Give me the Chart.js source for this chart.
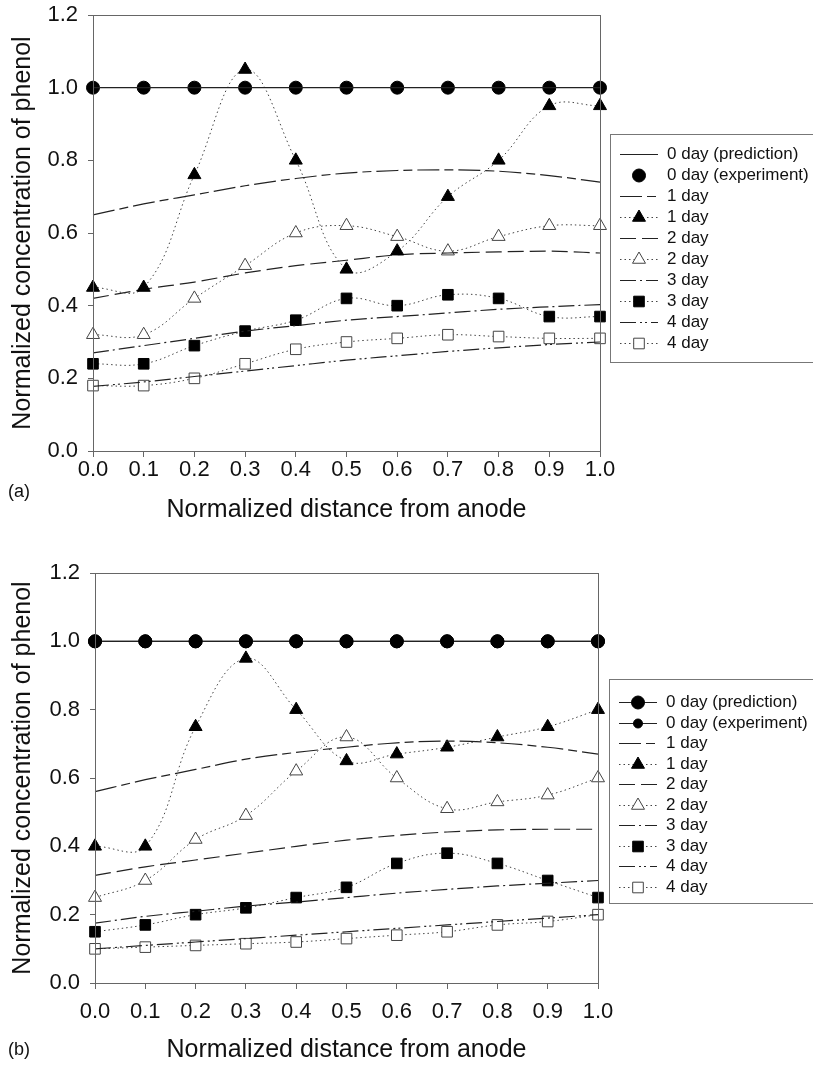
<!DOCTYPE html>
<html>
<head>
<meta charset="utf-8">
<script src="https://cdn.jsdelivr.net/npm/chart.js@4.4.1/dist/chart.umd.min.js"></script>
<style>
  body { margin: 0; background: #fff; width: 813px; height: 1085px; overflow: hidden; position: relative;
         font-family: "Liberation Sans", Arial, sans-serif; }
  canvas { position: absolute; left: 0; }
  .tag { position: absolute; left: 8px; font-size: 18px; color: #111; }
</style>
</head>
<body>
<canvas id="chartA" width="813" height="531" style="top:0"></canvas>
<canvas id="chartB" width="813" height="545" style="top:540px"></canvas>
<div class="tag" style="top:481px">(a)</div>
<div class="tag" style="top:1039px">(b)</div>
<script>
const distance = [0.0, 0.1, 0.2, 0.3, 0.4, 0.5, 0.6, 0.7, 0.8, 0.9, 1.0];
const yTicks = [0.0, 0.2, 0.4, 0.6, 0.8, 1.0, 1.2];

// panel (a)
const aPred0 = [1, 1, 1, 1, 1, 1, 1, 1, 1, 1, 1];
const aExp0  = [1, 1, 1, 1, 1, 1, 1, 1, 1, 1, 1];
const aPred1 = [0.65, 0.68, 0.705, 0.73, 0.75, 0.765, 0.772, 0.774, 0.77, 0.758, 0.74];
const aExp1  = [0.45, 0.45, 0.76, 1.05, 0.80, 0.50, 0.55, 0.70, 0.80, 0.95, 0.95];
const aPred2 = [0.42, 0.445, 0.465, 0.49, 0.51, 0.525, 0.54, 0.545, 0.548, 0.55, 0.545];
const aExp2  = [0.32, 0.32, 0.42, 0.51, 0.60, 0.62, 0.59, 0.55, 0.59, 0.62, 0.62];
const aPred3 = [0.27, 0.29, 0.31, 0.33, 0.345, 0.36, 0.37, 0.38, 0.39, 0.397, 0.403];
const aExp3  = [0.24, 0.24, 0.29, 0.33, 0.36, 0.42, 0.40, 0.43, 0.42, 0.37, 0.37];
const aPred4 = [0.178, 0.19, 0.205, 0.22, 0.235, 0.25, 0.262, 0.274, 0.284, 0.293, 0.30];
const aExp4  = [0.18, 0.18, 0.20, 0.24, 0.28, 0.30, 0.31, 0.32, 0.315, 0.31, 0.31];

// panel (b)
const bPred0 = [1, 1, 1, 1, 1, 1, 1, 1, 1, 1, 1];
const bExp0  = [1, 1, 1, 1, 1, 1, 1, 1, 1, 1, 1];
const bPred1 = [0.56, 0.595, 0.625, 0.655, 0.675, 0.69, 0.703, 0.708, 0.703, 0.69, 0.67];
const bExp1  = [0.40, 0.40, 0.75, 0.95, 0.80, 0.65, 0.67, 0.69, 0.72, 0.75, 0.80];
const bPred2 = [0.315, 0.34, 0.36, 0.38, 0.40, 0.418, 0.432, 0.442, 0.448, 0.45, 0.45];
const bExp2  = [0.25, 0.30, 0.42, 0.49, 0.62, 0.72, 0.60, 0.51, 0.53, 0.55, 0.60];
const bPred3 = [0.175, 0.195, 0.21, 0.225, 0.237, 0.25, 0.263, 0.274, 0.284, 0.292, 0.30];
const bExp3  = [0.15, 0.17, 0.20, 0.22, 0.25, 0.28, 0.35, 0.38, 0.35, 0.30, 0.25];
const bPred4 = [0.10, 0.11, 0.12, 0.13, 0.14, 0.15, 0.16, 0.17, 0.18, 0.19, 0.20];
const bExp4  = [0.10, 0.105, 0.11, 0.115, 0.12, 0.13, 0.14, 0.15, 0.17, 0.18, 0.20];

const FONT = '"Liberation Sans", Arial, sans-serif';
const pts = vals => vals.map((v, i) => ({ x: distance[i], y: v }));

function pred(label, vals, dash) {
  return { label, data: pts(vals), borderColor: '#222', borderWidth: 1.2, borderDash: dash,
           pointRadius: 0, tension: 0.4, cubicInterpolationMode: 'monotone', fill: false, clip: false };
}
function exp(label, vals, style, filled, r) {
  return { label, data: pts(vals), borderColor: '#444', borderWidth: 1, borderDash: [1.5, 3],
           tension: 0.4, fill: false, clip: false,
           pointStyle: style, pointRadius: r, pointHoverRadius: r,
           pointBackgroundColor: filled ? '#000' : '#fff', pointBorderColor: filled ? '#000' : '#444',
           pointBorderWidth: 1 };
}

// draws the box around the plot
const frame = {
  id: 'frame',
  afterDraw(chart) {
    const a = chart.chartArea, ctx = chart.ctx;
    ctx.save();
    ctx.strokeStyle = '#666';
    ctx.lineWidth = 1;
    ctx.strokeRect(Math.round(a.left) + 0.5, Math.round(a.top) + 0.5, Math.round(a.right - a.left), Math.round(a.bottom - a.top));
    ctx.restore();
  }
};

// legend to the right, showing each series' line style and marker
const sideLegend = {
  id: 'sideLegend',
  afterDraw(chart, args, o) {
    const ctx = chart.ctx;
    ctx.save();
    ctx.fillStyle = '#fff';
    ctx.fillRect(o.left, o.top, 300, o.height);
    ctx.strokeStyle = '#777';
    ctx.lineWidth = 1;
    ctx.strokeRect(o.left + 0.5, o.top + 0.5, 300, o.height);
    ctx.font = '17px ' + FONT;
    ctx.textBaseline = 'middle';
    chart.data.datasets.forEach((ds, i) => {
      const y = Math.round(o.top + o.first + i * o.step) + 0.5;
      const x0 = o.left + 10, x1 = o.left + 48;
      if (ds.showLine !== false) {
        ctx.setLineDash(ds.borderDash || []);
        ctx.strokeStyle = ds.borderColor;
        ctx.lineWidth = ds.borderWidth;
        ctx.beginPath(); ctx.moveTo(x0, y); ctx.lineTo(x1, y); ctx.stroke();
        ctx.setLineDash([]);
      }
      if (ds.pointRadius > 0) {
        ctx.fillStyle = ds.pointBackgroundColor;
        ctx.strokeStyle = ds.pointBorderColor;
        ctx.lineWidth = 1;
        const r = ds.legendRadius || ds.pointRadius;
        Chart.helpers.drawPoint(ctx, { pointStyle: ds.pointStyle, radius: r, rotation: 0, borderWidth: 1 }, (x0 + x1) / 2, y);
      }
      ctx.fillStyle = '#111';
      ctx.fillText(ds.label, o.left + 57, y);
    });
    ctx.restore();
  }
};

function makeChart(id, datasets, L) {
  return new Chart(document.getElementById(id), {
    type: 'line',
    data: { datasets },
    options: {
      responsive: false,
      animation: false,
      events: [],
      layout: { padding: { left: 0, right: L.right, top: L.top, bottom: 0 } },
      plugins: { legend: { display: false }, tooltip: { enabled: false }, sideLegend: L.legend },
      scales: {
        x: {
          type: 'linear', min: 0, max: 1,
          afterFit: s => { s.height = L.xHeight; },
          afterBuildTicks: s => { s.ticks = distance.map(v => ({ value: v })); },
          ticks: { callback: v => v.toFixed(1), font: { size: 22, family: FONT }, color: '#111', padding: L.xPad, maxRotation: 0 },
          grid: { drawOnChartArea: false, tickLength: 6, color: '#666' },
          border: { color: '#666' },
          title: { display: true, text: 'Normalized distance from anode', font: { size: 25, family: FONT }, color: '#111',
                   padding: { top: 0, bottom: L.titlePad } }
        },
        y: {
          min: 0, max: 1.2,
          afterFit: s => { s.width = L.yWidth; s.paddingTop = 0; s.paddingBottom = 0; },
          afterBuildTicks: s => { s.ticks = yTicks.map(v => ({ value: v })); },
          ticks: { callback: v => v.toFixed(1), font: { size: 22, family: FONT }, color: '#111', padding: 10 },
          grid: { drawOnChartArea: false, tickLength: 5, color: '#666' },
          border: { color: '#666' },
          title: { display: true, text: 'Normalized concentration of phenol', font: { size: 25, family: FONT }, color: '#111',
                   padding: { top: 8, bottom: 0 } }
        }
      }
    },
    plugins: [frame, sideLegend]
  });
}

const aExp0Set = exp('0 day (experiment)', aExp0, 'circle', true, 6.5);
aExp0Set.showLine = false;
makeChart('chartA', [
  pred('0 day (prediction)', aPred0, []),
  aExp0Set,
  pred('1 day', aPred1, [22, 5, 9, 5]),
  exp('1 day', aExp1, 'triangle', true, 7.5),
  pred('2 day', aPred2, [16, 6]),
  exp('2 day', aExp2, 'triangle', false, 7.5),
  pred('3 day', aPred3, [16, 4, 2, 4]),
  exp('3 day', aExp3, 'rect', true, 7.5),
  pred('4 day', aPred4, [16, 4, 2, 3, 2, 4]),
  exp('4 day', aExp4, 'rect', false, 7.5)
], { right: 213, top: 15, xHeight: 80, yWidth: 93, xPad: 0, titlePad: 6,
     legend: { left: 610, top: 134, height: 228, first: 20, step: 21 } });

const bPred0Set = exp('0 day (prediction)', bPred0, 'circle', true, 6.5);
bPred0Set.borderDash = []; bPred0Set.borderColor = '#222'; bPred0Set.borderWidth = 1.2; bPred0Set.tension = 0;
const bExp0Set = exp('0 day (experiment)', bExp0, 'circle', true, 4.5);
bExp0Set.borderDash = []; bExp0Set.borderColor = '#222'; bExp0Set.borderWidth = 1.2; bExp0Set.tension = 0;
bExp0Set.pointRadius = 6.5; bExp0Set.legendRadius = 4.5;
bPred0Set.legendRadius = 6.5;
makeChart('chartB', [
  bPred0Set,
  bExp0Set,
  pred('1 day', bPred1, [22, 5, 9, 5]),
  exp('1 day', bExp1, 'triangle', true, 7.5),
  pred('2 day', bPred2, [16, 6]),
  exp('2 day', bExp2, 'triangle', false, 7.5),
  pred('3 day', bPred3, [16, 4, 2, 4]),
  exp('3 day', bExp3, 'rect', true, 7.5),
  pred('4 day', bPred4, [16, 4, 2, 3, 2, 4]),
  exp('4 day', bExp4, 'rect', false, 7.5)
], { right: 215, top: 33, xHeight: 102, yWidth: 95, xPad: 10, titlePad: 20,
     legend: { left: 609, top: 139, height: 224, first: 23, step: 20.5 } });
</script>
</body>
</html>
